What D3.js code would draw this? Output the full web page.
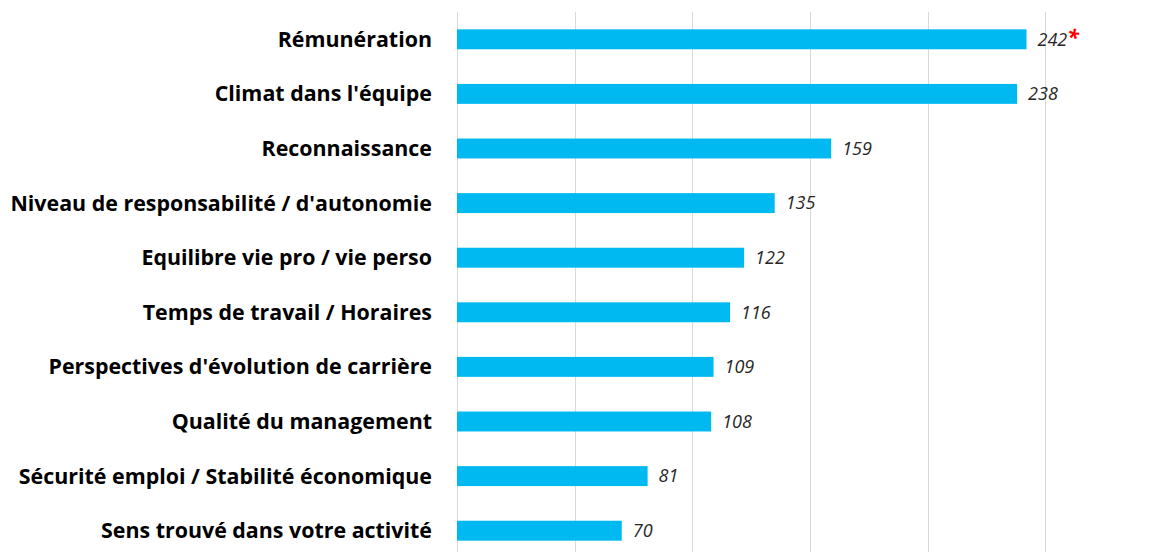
<!DOCTYPE html>
<html><head><meta charset="utf-8">
<script src="https://cdn.jsdelivr.net/npm/d3@7"></script>
<style>body{margin:0;background:#fff}</style>
</head><body>
<svg id="chart" width="1149" height="552"></svg>
<script>
const categories = ["Rémunération","Climat dans l'équipe","Reconnaissance","Niveau de responsabilité / d'autonomie","Equilibre vie pro / vie perso","Temps de travail / Horaires","Perspectives d'évolution de carrière","Qualité du management","Sécurité emploi / Stabilité économique","Sens trouvé dans votre activité"];
const values = [242,238,159,135,122,116,109,108,81,70];
const flagged = ["Rémunération"];
const gridTicks = [0,50,100,150,200,250];

const svg = d3.select("#chart");
const x = d3.scaleLinear().domain([0,300]).range([457,1163]);
const y = d3.scaleBand().domain(categories).range([12,558]).paddingInner(0.635).paddingOuter(0.3175);

svg.append("g").selectAll("line").data(gridTicks).join("line")
  .attr("x1",d=>Math.round(x(d))+0.5).attr("x2",d=>Math.round(x(d))+0.5)
  .attr("y1",12).attr("y2",552).attr("stroke","#d9d9d9").attr("stroke-width",1);

svg.append("g").selectAll("rect").data(categories).join("rect")
  .attr("x",x(0)).attr("y",d=>y(d)).attr("width",(d,i)=>x(values[i])-x(0)).attr("height",y.bandwidth())
  .attr("fill","#00b9f1");

svg.append("g").selectAll("text").data(categories).join("text")
  .attr("x",432).attr("y",d=>y(d)+y.bandwidth()/2).attr("dy","0.35em")
  .attr("text-anchor","end").attr("font-family","'Open Sans', sans-serif")
  .attr("font-weight","bold").attr("font-size",21.4).attr("fill","#000").text(d=>d);

const vl = svg.append("g").selectAll("text").data(categories).join("text")
  .attr("x",(d,i)=>x(values[i])+11).attr("y",d=>y(d)+y.bandwidth()/2).attr("dy","0.35em")
  .attr("font-family","'Open Sans', sans-serif").attr("font-style","italic")
  .attr("font-size",18).attr("fill","#262626");
vl.append("tspan").text((d,i)=>values[i]);
vl.filter(d=>flagged.includes(d)).append("tspan").attr("fill","#ff0000").attr("font-size",21).attr("font-weight","bold").attr("dy","-0.05em").text("*");
</script>
</body></html>
